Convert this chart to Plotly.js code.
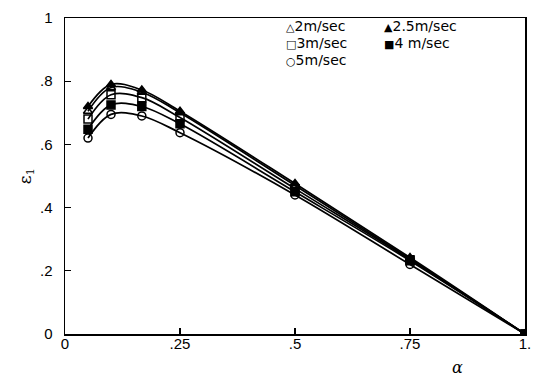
<!DOCTYPE html>
<html><head><meta charset="utf-8">
<script src="https://cdn.plot.ly/plotly-3.0.1.min.js"></script>
<style>html,body{margin:0;padding:0;background:#fff}</style>
</head><body><div id="chart" style="width:539px;height:379px"></div>
<script>
const alpha = [0.05, 0.1, 0.167, 0.25, 0.5, 0.75, 1.0];
const seriesNames = ['2m/sec', '2.5m/sec', '3m/sec', '4 m/sec', '5m/sec'];
const legendGlyphs = ['△', '▲', '□', '■', '○'];
const eps_2 = [0.705, 0.78, 0.765, 0.70, 0.47, 0.238, 0];
const eps_25 = [0.72, 0.79, 0.772, 0.705, 0.476, 0.242, 0];
const eps_3 = [0.68, 0.757, 0.748, 0.685, 0.46, 0.235, 0];
const eps_4 = [0.648, 0.725, 0.72, 0.665, 0.45, 0.232, 0];
const eps_5 = [0.62, 0.695, 0.69, 0.637, 0.44, 0.22, 0];
const xTickVals = [0, 0.25, 0.5, 0.75, 1];
const xTickText = ['0', '.25', '.5', '.75', '1.'];
const yTickVals = [0, 0.2, 0.4, 0.6, 0.8, 1];
const yTickText = ['0', '.2', '.4', '.6', '.8', '1'];

const allY = [eps_2, eps_25, eps_3, eps_4, eps_5];
const symbols = ['triangle-up-open', 'triangle-up', 'square-open', 'square', 'circle-open'];

const traces = allY.map((ys, i) => ({
  x: alpha, y: ys, type: 'scatter', mode: 'lines+markers', name: seriesNames[i],
  line: {color: '#000', width: 1.7, shape: 'spline', smoothing: 1},
  marker: {symbol: symbols[i], size: 8, color: '#000', line: {color: '#000', width: 1.5}},
  showlegend: false, hoverinfo: 'skip'
}));

// legend placement (paper coords): column / row for each series
const legendCol = [0.478, 0.691, 0.478, 0.691, 0.478];
const legendRow = [0, 0, 1, 1, 2];
const legendFont = {family: 'DejaVu Sans, sans-serif', size: 14, color: '#000'};
const legendAnn = seriesNames.map((n, i) => ({
  text: '<span style="font-size:11px">' + legendGlyphs[i] + '</span>' + n,
  xref: 'paper', yref: 'paper', x: legendCol[i], y: 0.975 - legendRow[i] * 0.054,
  xanchor: 'left', yanchor: 'middle', showarrow: false, font: legendFont, borderpad: 0
}));

const axisCommon = {
  showgrid: false, zeroline: false, showline: true, mirror: true,
  linecolor: '#000', linewidth: 1.5, ticks: 'inside', ticklen: 6,
  tickcolor: '#000', tickwidth: 1.2,
  tickfont: {family: 'Liberation Sans, Arial, sans-serif', size: 15, color: '#000'}
};

const layout = {
  width: 539, height: 379,
  margin: {l: 65, r: 14, t: 18, b: 45},
  paper_bgcolor: '#fff', plot_bgcolor: '#fff',
  showlegend: false,
  xaxis: Object.assign({}, axisCommon, {
    range: [0, 1], tickvals: xTickVals, ticktext: xTickText, ticklabelstandoff: -5
  }),
  yaxis: Object.assign({}, axisCommon, {
    range: [0, 1], tickvals: yTickVals, ticktext: yTickText, ticklabelstandoff: 8,
    title: {text: 'ε<sub>1</sub>', font: {family: 'DejaVu Serif, serif', size: 17, color: '#000'}, standoff: 4}
  }),
  annotations: legendAnn.concat([{
    text: '<i>α</i>', xref: 'paper', yref: 'paper', x: 0.854, y: -0.105,
    xanchor: 'center', yanchor: 'middle', borderpad: 0,
    showarrow: false, font: {family: 'DejaVu Serif, serif', size: 16, color: '#000'}
  }])
};

Plotly.newPlot('chart', traces, layout, {staticPlot: true, displayModeBar: false});
</script></body></html>
